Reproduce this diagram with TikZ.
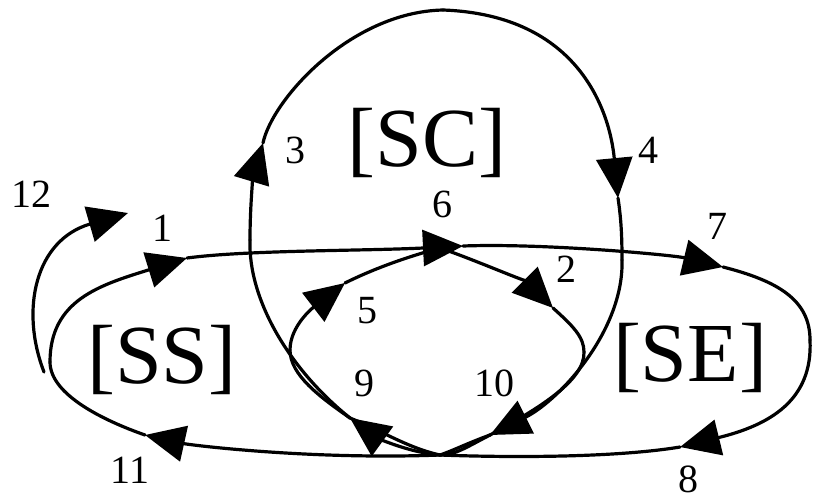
\documentclass[tikz,border=0pt]{standalone}
\usepackage{fontspec}
\setmainfont{Liberation Serif}
\usetikzlibrary{arrows.meta}

\begin{document}
\begin{tikzpicture}[x=0.5pt, y=-0.5pt,
    loopline/.style={line width=1.6pt, line cap=round, line join=round},
    looparrow/.style={loopline, -{Triangle[length=20pt,width=18pt]}},
    num/.style={font=\fontsize{20}{20}\selectfont, inner sep=0pt},
    region/.style={font=\fontsize{42}{42}\selectfont, inner sep=0pt}]
        \useasboundingbox (0,0) rectangle (813,499);

        % Hubs and arrow tips
        \coordinate (T) at (440,248);
        \coordinate (B) at (440,455);
        \coordinate (a1) at (187,258);
        \coordinate (a2) at (553,308);
        \coordinate (a3) at (263,143);
        \coordinate (a4) at (618,198);
        \coordinate (a5) at (345,283);
        \coordinate (a6) at (463,246);
        \coordinate (a7) at (723,267);
        \coordinate (a8) at (680,447);
        \coordinate (a9) at (350,418);
        \coordinate (a10) at (490,435);
        \coordinate (a11) at (145,435);
        \coordinate (a12) at (128,213);
        \coordinate (p12) at (44,372);
        \coordinate (ssw) at (50,362);
        \coordinate (see) at (810,340);
        \coordinate (scl) at (250,240);
        \coordinate (sct) at (443,10);
        \coordinate (scr) at (622,260);
        \coordinate (inl) at (290,350);
        \coordinate (inr) at (584,352);

        % Outer loop [SS] - [SE]
        \draw[looparrow] (a1) .. controls +(60,-8) and +(-100,5) .. (a6);
        \draw[looparrow] (a6) .. controls +(80,-3) and +(-50,-12) .. (a7);
        \draw[loopline] (a7) .. controls +(55,14) and +(0,-40) .. (see);
        \draw[looparrow] (see) .. controls +(3,60) and +(90,-22) .. (a8);
        \draw[loopline] (a8) .. controls +(-60,10) and +(80,3) .. (B);
        \draw[looparrow] (B) .. controls +(-130,5) and +(45,10) .. (a11);
        \draw[loopline] (a11) .. controls +(-40,-14) and +(0,33) .. (ssw);
        \draw[looparrow] (ssw) .. controls +(0,-62) and +(-87,27) .. (a1);
        \draw[looparrow] (p12) .. controls +(-24,-62) and +(-93,27) .. (a12);

        % Loop [SC]
        \draw[looparrow] (B) .. controls +(-35,-3) and +(25,18) .. (a9);
        \draw[loopline] (a9) .. controls +(-60,-48) and +(-2,60) .. (scl);
        \draw[looparrow] (scl) .. controls +(0,-40) and +(-9,30) .. (a3);
        \draw[loopline] (a3) .. controls +(9,-43) and +(-93,2) .. (sct);
        \draw[looparrow] (sct) .. controls +(137,5) and +(-8,-85) .. (a4);
        \draw[loopline] (a4) .. controls +(3,20) and +(0,-25) .. (scr);
        \draw[looparrow] (scr) .. controls +(2,70) and +(70,-35) .. (a10);
        \draw[loopline] (a10) .. controls +(-25,13) and +(15,0) .. (B);

        % Inner loop
        \draw[loopline] (B) .. controls +(-32,-7) and +(30,12) .. (a9);
        \draw[loopline] (a9) .. controls +(-30,-21) and +(0,25) .. (inl);
        \draw[looparrow] (inl) .. controls +(0,-25) and +(-30,23) .. (a5);
        \draw[loopline] (a5) .. controls +(30,-15) and +(-30,8) .. (T);
        \draw[looparrow] (T) .. controls +(30,10) and +(-25,-25) .. (a2);
        \draw[loopline] (a2) .. controls +(20,18) and +(0,-15) .. (inr);
        \draw[loopline] (inr) .. controls +(1,28) and +(50,-27) .. (a10);
        \draw[loopline] (a10) .. controls +(-22,8) and +(12,-4) .. (B);

        % Labels
        \node[region] (ss) at (162,360) {[SS]};
        \node[region] (sc) at (427,143) {[SC]};
        \node[region] (se) at (690,358) {[SE]};
        \node[num] (l1) at (162,228) {1};
        \node[num] (l2) at (566,269) {2};
        \node[num] (l3) at (295,150) {3};
        \node[num] (l4) at (648,150) {4};
        \node[num] (l5) at (367,311) {5};
        \node[num] (l6) at (442,204) {6};
        \node[num] (l7) at (717,226) {7};
        \node[num] (l8) at (688,479) {8};
        \node[num] (l9) at (364,383) {9};
        \node[num] (l10) at (494,383) {10};
        \node[num] (l11) at (130,470) {11};
        \node[num] (l12) at (31,194) {12};
\end{tikzpicture}
\end{document}
